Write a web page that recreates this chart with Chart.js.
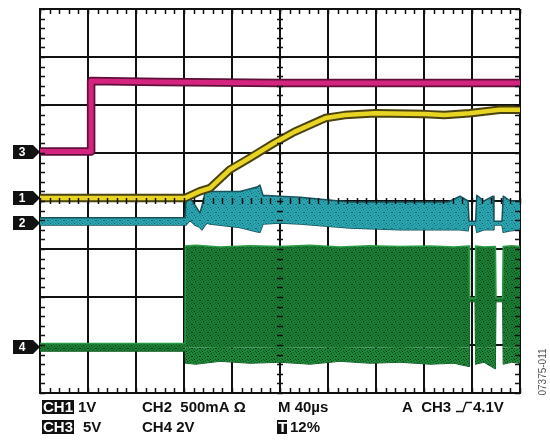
<!DOCTYPE html>
<html>
<head>
<meta charset="utf-8">
<script src="https://cdn.jsdelivr.net/npm/chart.js@4/dist/chart.umd.min.js"></script>
<style>
    html, body { margin: 0; padding: 0; background: #fff; }
    #scope { display: block; }
</style>
</head>
<body>
<canvas id="scope" width="550" height="443"></canvas>
<script>
// Scope capture: time in microseconds (40us/div), levels in screen divisions (0..8)

// CH3 - magenta step
var ch3Time = [0, 42.5, 42.6, 100, 200, 300, 400];
var ch3Div = [5.03, 5.03, 6.5, 6.48, 6.46, 6.46, 6.46];

// CH1 - yellow ramp
var ch1Time = [0, 120.8, 133, 141.7, 158, 175, 196, 212, 238, 254, 279, 321, 337, 358, 383, 400];
var ch1Div = [4.06, 4.06, 4.2, 4.27, 4.65, 4.9, 5.22, 5.44, 5.73, 5.79, 5.83, 5.81, 5.79, 5.83, 5.9, 5.9];

// CH2 - teal current band (top / bottom edge)
var ch2Time = [0, 120.8, 121.7, 125, 129, 133.3, 135, 137.5, 139.2, 141.7, 166.7, 180.8, 183.3, 185.8, 200, 216.7, 258.3, 300, 340, 350, 356.7, 357.5, 363, 364, 370, 377.5, 378.3, 385, 386, 392, 400];
var ch2Top = [3.65, 3.65, 4.06, 4.06, 3.92, 3.75, 3.9, 4.17, 4.18, 4.2, 4.2, 4.29, 4.33, 4.12, 4.1, 4.08, 3.98, 3.98, 3.98, 4.1, 4.0, 3.58, 3.58, 4.12, 4.0, 4.1, 3.58, 3.58, 4.1, 4.0, 4.0];
var ch2Bottom = [3.5, 3.5, 3.5, 3.6, 3.5, 3.45, 3.4, 3.5, 3.54, 3.52, 3.45, 3.36, 3.35, 3.52, 3.54, 3.52, 3.44, 3.4, 3.4, 3.4, 3.38, 3.5, 3.5, 3.35, 3.4, 3.4, 3.5, 3.5, 3.35, 3.38, 3.4];

// CH4 - green switching node (top, solid bottom, ragged bottom)
var ch4Time = [0, 120.8, 121.2, 130, 150, 175, 200, 225, 250, 275, 300, 325, 345, 357.5, 358, 362.5, 363, 370, 379.5, 380, 385.5, 386, 393, 400];
var ch4Top = [1.03, 1.03, 3.06, 3.08, 3.04, 3.07, 3.05, 3.08, 3.04, 3.07, 3.05, 3.06, 3.04, 3.06, 1.98, 1.98, 3.06, 3.04, 3.05, 1.98, 1.98, 3.05, 3.07, 3.05];
var ch4Mid = [0.87, 0.87, 0.96, 0.95, 0.96, 0.95, 0.96, 0.95, 0.96, 0.95, 0.96, 0.95, 0.96, 0.95, 1.9, 1.9, 0.95, 0.96, 0.95, 1.9, 1.9, 0.95, 0.96, 0.95];
var ch4Low = [0.87, 0.87, 0.62, 0.6, 0.66, 0.62, 0.64, 0.6, 0.66, 0.62, 0.64, 0.6, 0.62, 0.55, 1.9, 1.9, 0.6, 0.64, 0.5, 1.9, 1.9, 0.6, 0.64, 0.62];

// channel ground markers on the left edge
var markerNames = ['3', '1', '2', '4'];
var markerLevels = [5.03, 4.06, 3.54, 0.95];

function pts(t, v) {
    return t.map(function (x, i) { return { x: x, y: v[i] }; });
}

// small speckle tile so the filled bands look like persistence noise
var speckMap = [
    '10000100',
    '00020000',
    '01000010',
    '00001000',
    '20100002',
    '00000100',
    '01001000',
    '00200001'
];

function speckle(base, dark, darker) {
    var c = document.createElement('canvas');
    c.width = 8;
    c.height = 8;
    var g = c.getContext('2d');
    g.fillStyle = base;
    g.fillRect(0, 0, 8, 8);
    speckMap.forEach(function (row, y) {
        for (var x = 0; x < 8; x++) {
            if (row[x] === '1') { g.fillStyle = dark; g.fillRect(x, y, 1, 1); }
            if (row[x] === '2') { g.fillStyle = darker; g.fillRect(x, y, 1, 1); }
        }
    });
    return g.createPattern(c, 'repeat');
}

function trace(t, v, color, width, fill, bg) {
    return {
        data: pts(t, v),
        borderColor: color,
        borderWidth: width,
        backgroundColor: bg || 'transparent',
        fill: fill || false,
        pointRadius: 0,
        tension: 0,
        borderJoinStyle: 'round',
        borderCapStyle: 'round'
    };
}

var graticule = {
    id: 'graticule',
    afterDraw: function (chart) {
        var ctx = chart.ctx, a = chart.chartArea;
        var xs = chart.scales.x, ys = chart.scales.y;
        var xc = xs.getPixelForValue(200), yc = ys.getPixelForValue(4);
        var t, p;
        ctx.save();
        ctx.strokeStyle = '#111';
        ctx.lineWidth = 1.5;
        ctx.beginPath();
        for (t = 0; t <= 400; t += 8) {
            p = Math.round(xs.getPixelForValue(t)) + 0.5;
            ctx.moveTo(p, a.top); ctx.lineTo(p, a.top + 5);
            ctx.moveTo(p, a.bottom); ctx.lineTo(p, a.bottom - 5);
            ctx.moveTo(p, yc - 3); ctx.lineTo(p, yc + 3);
        }
        for (t = 0; t <= 8.001; t += 0.2) {
            p = Math.round(ys.getPixelForValue(t)) + 0.5;
            ctx.moveTo(a.left, p); ctx.lineTo(a.left + 5, p);
            ctx.moveTo(a.right, p); ctx.lineTo(a.right - 5, p);
            ctx.moveTo(xc - 3, p); ctx.lineTo(xc + 3, p);
        }
        ctx.stroke();

        // channel markers
        ctx.font = 'bold 12px "Liberation Sans", Arial, sans-serif';
        ctx.textAlign = 'center';
        ctx.textBaseline = 'middle';
        markerNames.forEach(function (name, i) {
            var y = Math.round(ys.getPixelForValue(markerLevels[i]));
            ctx.fillStyle = '#111';
            ctx.beginPath();
            ctx.moveTo(13, y - 7);
            ctx.lineTo(33, y - 7);
            ctx.lineTo(40, y);
            ctx.lineTo(33, y + 7);
            ctx.lineTo(13, y + 7);
            ctx.closePath();
            ctx.fill();
            ctx.fillStyle = '#fff';
            ctx.fillText(name, 22, y + 1);
        });
        ctx.restore();
    }
};

function boxText(ctx, txt, x, y, w) {
    ctx.fillStyle = '#111';
    ctx.fillRect(x, y - 12, w, 14);
    ctx.fillStyle = '#fff';
    ctx.fillText(txt, x + 1, y);
}

var readout = {
    id: 'readout',
    afterDraw: function (chart) {
        var ctx = chart.ctx;
        ctx.save();
        ctx.font = 'bold 15px "Liberation Sans", Arial, sans-serif';
        ctx.textBaseline = 'alphabetic';
        ctx.textAlign = 'left';

        boxText(ctx, 'CH1', 42, 412, 32);
        ctx.fillStyle = '#111';
        ctx.fillText('1V', 78, 412);
        ctx.fillText('CH2  500mA \u03A9', 142, 412);
        ctx.fillText('M 40\u00B5s', 278, 412);
        ctx.fillText('A  CH3', 402, 412);
        ctx.fillText('4.1V', 473, 412);

        // rising edge trigger symbol
        ctx.strokeStyle = '#111';
        ctx.lineWidth = 1.3;
        ctx.beginPath();
        ctx.moveTo(456, 411.5);
        ctx.lineTo(463, 411.5);
        ctx.lineTo(466, 402.5);
        ctx.lineTo(472, 402.5);
        ctx.stroke();

        boxText(ctx, 'CH3', 42, 432, 32);
        ctx.fillStyle = '#111';
        ctx.fillText('5V', 83, 432);
        ctx.fillText('CH4 2V', 142, 432);
        boxText(ctx, 'T', 277, 432, 10);
        ctx.fillStyle = '#111';
        ctx.fillText('12%', 290, 432);

        // figure id
        ctx.font = '10px "Liberation Sans", Arial, sans-serif';
        ctx.fillStyle = '#555';
        ctx.translate(543, 372);
        ctx.rotate(-Math.PI / 2);
        ctx.textAlign = 'center';
        ctx.textBaseline = 'middle';
        ctx.fillText('07375-011', 0, 0);
        ctx.restore();
    }
};

var tealFill = speckle('#2aa5b0', '#1f8590', '#17606a');
var greenFill = speckle('#1a7c33', '#0f5a22', '#08351a');
var fringeFill = speckle('#1d8537', '#0e5320', '#062c12');

new Chart(document.getElementById('scope').getContext('2d'), {
    type: 'line',
    data: {
        datasets: [
            trace(ch3Time, ch3Div, '#d4247f', 5),
            trace(ch3Time, ch3Div, '#5e1038', 8.5),
            trace(ch1Time, ch1Div, '#e8d422', 4.5),
            trace(ch1Time, ch1Div, '#4a4210', 8.5),
            trace(ch2Time, ch2Top, '#17525a', 1.5, '+1', tealFill),
            trace(ch2Time, ch2Bottom, '#17525a', 1.5),
            trace(ch4Time, ch4Top, '#2b9a45', 1.5, '+1', greenFill),
            trace(ch4Time, ch4Mid, 'rgba(0,0,0,0)', 0, '+1', fringeFill),
            trace(ch4Time, ch4Low, '#0e4f1e', 1)
        ]
    },
    options: {
        responsive: false,
        animation: false,
        layout: { padding: { left: 40, top: 9, right: 30, bottom: 50 } },
        plugins: {
            legend: { display: false },
            tooltip: { enabled: false }
        },
        scales: {
            x: {
                type: 'linear',
                min: 0,
                max: 400,
                z: 1,
                ticks: { display: false, stepSize: 40 },
                grid: { color: '#111', lineWidth: 2, drawTicks: false },
                border: { color: '#111', width: 2 }
            },
            y: {
                type: 'linear',
                min: 0,
                max: 8,
                z: 1,
                ticks: { display: false, stepSize: 1 },
                grid: { color: '#111', lineWidth: 2, drawTicks: false },
                border: { color: '#111', width: 2 }
            }
        }
    },
    plugins: [graticule, readout]
});
</script>
</body>
</html>
